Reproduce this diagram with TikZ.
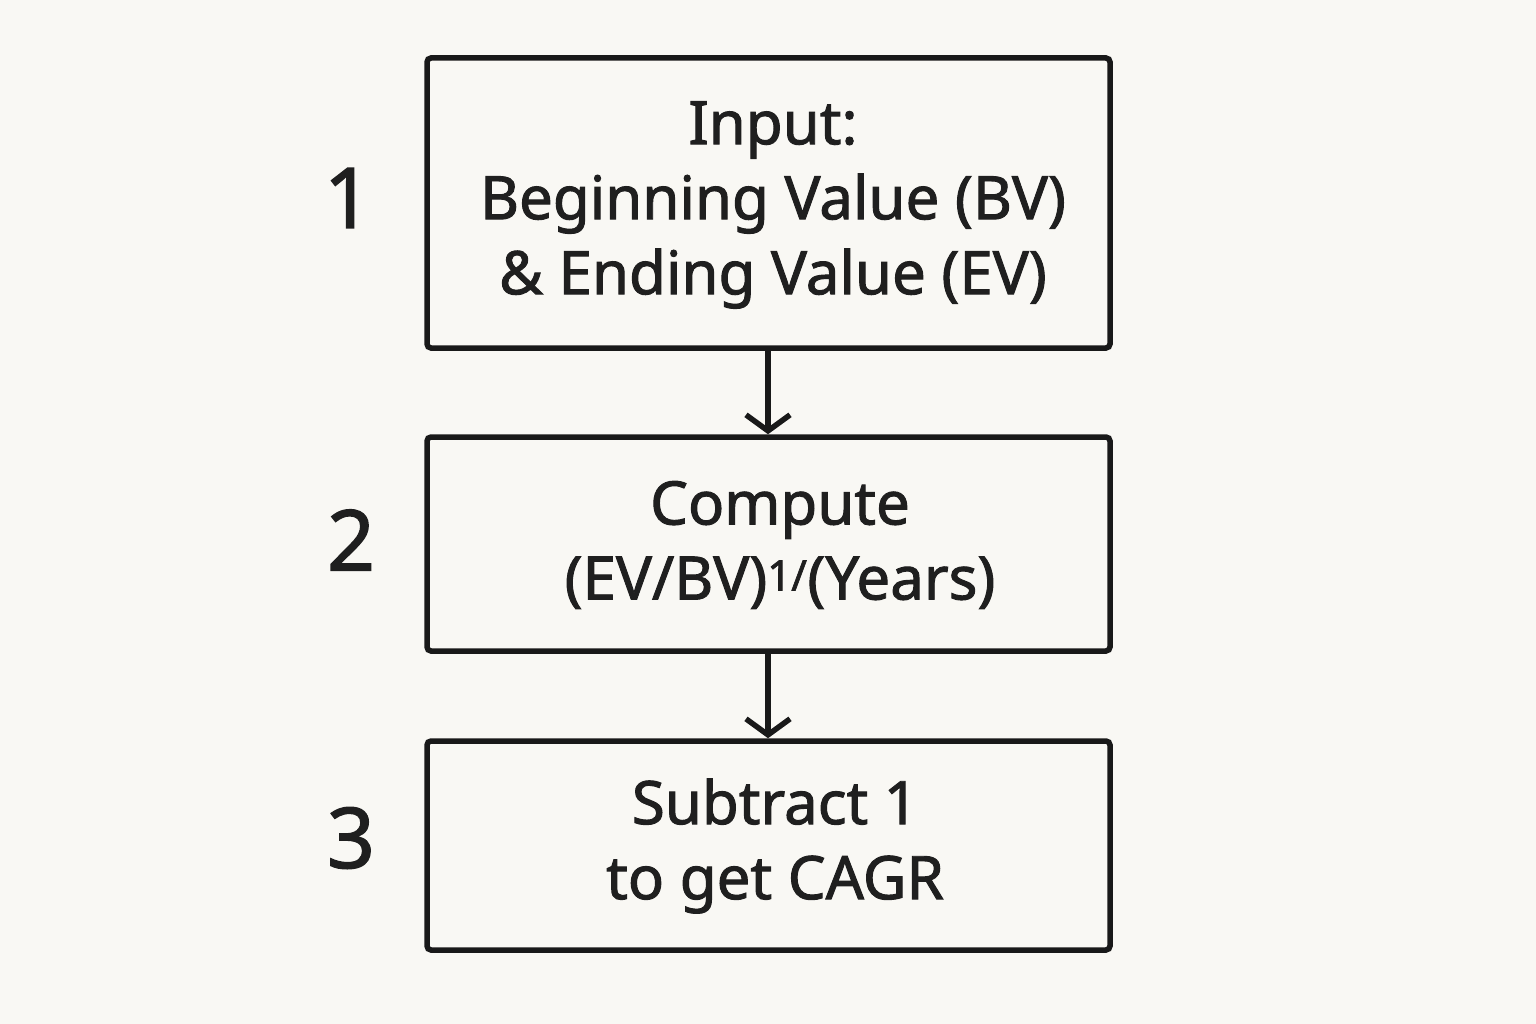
\documentclass[tikz,border=0pt]{standalone}
\usepackage{fontspec}
\setmainfont{Noto Sans}[FakeBold=1.6,BoldFont={Noto Sans}]
\usetikzlibrary{arrows.meta}
\begin{document}
\begin{tikzpicture}[x=1pt,y=-1pt,
  box/.style={draw=black!90,line width=5.5pt,rounded corners=4pt,minimum width=683pt,inner sep=0pt},
  txt/.style={font=\fontsize{60}{75}\selectfont\bfseries,align=center,text=black!88},
  num/.style={font=\fontsize{84}{84}\selectfont\bfseries,text=black!88},
  arr/.style={line width=5.5pt,draw=black!90,-{Straight Barb[length=16pt,width=44pt,line width=5.5pt]}}]
\fill[color={rgb,255:red,249;green,248;blue,244}] (0,0) rectangle (1536,1024);
\useasboundingbox (0,0) rectangle (1536,1024);
\node[box,minimum height=290pt] (b1) at (768.5,203) {};
\node[box,minimum height=214pt] (b2) at (768.5,544) {};
\node[box,minimum height=209pt] (b3) at (768.5,845.5) {};
\node[txt] (t1) at (773,205) {Input:\\ Beginning Value (BV)\\ \& Ending Value (EV)};
\node[txt] (t2) at (780,545) {Compute\\ (EV/BV)\textsuperscript{1/}(Years)};
\node[txt] (t3) at (775,846) {Subtract 1\\ to get CAGR};
\node[num] (n1) at (348,198) {1};
\node[num] (n2) at (351,540) {2};
\node[num] (n3) at (351,838) {3};
\draw[arr] (b1.south -| 768,0) -- (b2.north -| 768,0);
\draw[arr] (b2.south -| 768,0) -- (b3.north -| 768,0);
\end{tikzpicture}
\end{document}
